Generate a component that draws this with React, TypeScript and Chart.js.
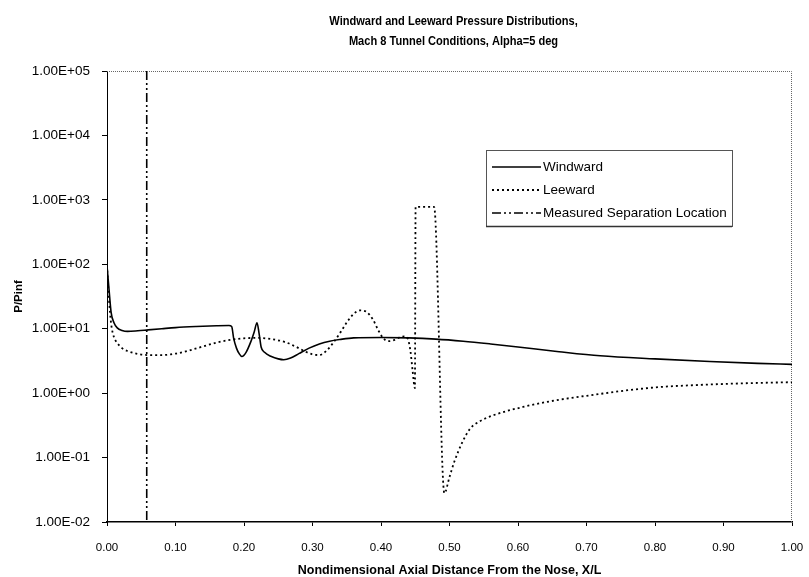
import React, { useEffect, useRef } from "react";
import { Chart, registerables } from "chart.js";

Chart.register(...registerables);

const titleLines = [
  "Windward and Leeward Pressure Distributions,",
  "Mach 8 Tunnel Conditions, Alpha=5 deg",
];
const xTitle = "Nondimensional Axial Distance From the Nose, X/L";
const yTitle = "P/Pinf";
const seriesNames = ["Windward", "Leeward", "Measured Separation Location"];

const xTicks = [0, 0.1, 0.2, 0.3, 0.4, 0.5, 0.6, 0.7, 0.8, 0.9, 1.0];
const xTickLabels = ["0.00", "0.10", "0.20", "0.30", "0.40", "0.50", "0.60", "0.70", "0.80", "0.90", "1.00"];
const yTicks = [1e-2, 1e-1, 1e0, 1e1, 1e2, 1e3, 1e4, 1e5];
const yTickLabels = ["1.00E-02", "1.00E-01", "1.00E+00", "1.00E+01", "1.00E+02", "1.00E+03", "1.00E+04", "1.00E+05"];

const windwardX = [0, 0.003, 0.006, 0.01, 0.015, 0.022, 0.03, 0.045, 0.06, 0.08,
  0.1, 0.13, 0.16, 0.178, 0.182, 0.185, 0.189, 0.193, 0.197, 0.203,
  0.21, 0.215, 0.219, 0.222, 0.225, 0.23, 0.24, 0.25, 0.258, 0.268,
  0.28, 0.295, 0.31, 0.325, 0.34, 0.36, 0.4, 0.44, 0.48, 0.52,
  0.56, 0.6, 0.66, 0.72, 0.8, 0.88, 0.95, 1.0];
const windwardY = [95, 40, 18, 12.5, 10.3, 9.4, 9.1, 9.3, 9.6, 10.0,
  10.4, 10.8, 11.1, 11.2, 10.8, 7.0, 5.0, 4.1, 3.7, 4.3,
  6.3, 9.0, 12.4, 8.5, 5.2, 4.3, 3.7, 3.4, 3.3, 3.5,
  4.1, 5.0, 5.8, 6.4, 6.8, 7.2, 7.3, 7.2, 6.9, 6.4,
  5.8, 5.2, 4.4, 3.8, 3.4, 3.1, 2.9, 2.8];

const leewardX = [0, 0.003, 0.006, 0.01, 0.015, 0.022, 0.03, 0.045, 0.06, 0.08,
  0.1, 0.12, 0.14, 0.16, 0.18, 0.2, 0.22, 0.24, 0.26, 0.275,
  0.29, 0.3, 0.31, 0.32, 0.33, 0.34, 0.35, 0.36, 0.369, 0.378,
  0.388, 0.396, 0.403, 0.41, 0.42, 0.428, 0.434, 0.439, 0.443, 0.446,
  0.4495, 0.4505, 0.4775, 0.4925, 0.5, 0.507, 0.519, 0.53, 0.545, 0.563,
  0.61, 0.66, 0.71, 0.757, 0.805, 0.85, 0.902, 0.95, 1.0];
const leewardY = [95, 28, 12, 7.5, 6.0, 5.0, 4.5, 4.05, 3.9, 3.9,
  4.1, 4.6, 5.3, 6.1, 6.7, 7.1, 7.2, 6.9, 6.2, 5.3,
  4.4, 4.0, 3.9, 4.5, 6.0, 8.5, 12.5, 17, 19.2, 18.5,
  14, 9.5, 7.2, 6.4, 6.7, 7.4, 7.6, 7.0, 4.5, 2.3,
  1.2, 780, 780, 0.028, 0.05, 0.086, 0.175, 0.28, 0.37, 0.45,
  0.62, 0.79, 0.94, 1.1, 1.24, 1.32, 1.39, 1.44, 1.48];

const separationX = [0.058, 0.058];
const separationY = [1e5, 1e-2];

const toPoints = (xs: number[], ys: number[]) => xs.map((x, i) => ({ x, y: ys[i] }));

const FONT = '"Liberation Sans", Arial, Helvetica, sans-serif';

const decorPlugin = {
  id: "decor",
  afterDraw(chart: any) {
    const { ctx, chartArea: ca } = chart;
    ctx.save();
    // dotted top and right frame
    ctx.strokeStyle = "#666";
    ctx.lineWidth = 1;
    ctx.setLineDash([1, 1]);
    ctx.beginPath();
    ctx.moveTo(ca.left, ca.top + 0.5);
    ctx.lineTo(ca.right - 0.5, ca.top + 0.5);
    ctx.lineTo(ca.right - 0.5, ca.bottom);
    ctx.stroke();
    ctx.setLineDash([]);

    // title centred over the plot area (slightly condensed)
    ctx.fillStyle = "#000";
    ctx.font = `bold 13.5px ${FONT}`;
    ctx.textAlign = "center";
    ctx.textBaseline = "middle";
    const cx = (ca.left + ca.right) / 2 + 4;
    titleLines.forEach((t, i) => {
      ctx.save();
      ctx.translate(cx, 21 + i * 20);
      ctx.scale(0.82, 1);
      ctx.fillText(t, 0, 0);
      ctx.restore();
    });

    // legend box
    const lx = 486, ly = 150, lw = 246, lh = 76;
    ctx.fillStyle = "#fff";
    ctx.fillRect(lx, ly, lw, lh);
    ctx.strokeStyle = "#555";
    ctx.lineWidth = 1;
    ctx.strokeRect(lx + 0.5, ly + 0.5, lw, lh);
    ctx.lineWidth = 1.5;
    ctx.strokeStyle = "#333";
    ctx.beginPath();
    ctx.moveTo(lx, ly + lh + 0.5);
    ctx.lineTo(lx + lw, ly + lh + 0.5);
    ctx.stroke();

    chart.data.datasets.forEach((ds: any, i: number) => {
      const y = ly + 17 + i * 23;
      ctx.strokeStyle = ds.borderColor;
      ctx.lineWidth = ds.borderWidth;
      ctx.setLineDash(ds.borderDash || []);
      ctx.beginPath();
      ctx.moveTo(lx + 6, y);
      ctx.lineTo(lx + 55, y);
      ctx.stroke();
      ctx.setLineDash([]);
      ctx.fillStyle = "#000";
      ctx.font = `13.5px ${FONT}`;
      ctx.textAlign = "left";
      ctx.textBaseline = "middle";
      ctx.fillText(ds.label, lx + 57, y);
    });
    ctx.restore();
  },
};

export default function App() {
  const ref = useRef<HTMLCanvasElement | null>(null);
  useEffect(() => {
    if (!ref.current) return;
    const chart = new Chart(ref.current, {
      type: "line",
      data: {
        datasets: [
          {
            label: seriesNames[0],
            data: toPoints(windwardX, windwardY),
            borderColor: "#000",
            borderWidth: 1.6,
            pointRadius: 0,
            cubicInterpolationMode: "monotone",
            fill: false,
          },
          {
            label: seriesNames[1],
            data: toPoints(leewardX, leewardY),
            borderColor: "#000",
            borderWidth: 1.8,
            borderDash: [2, 3],
            pointRadius: 0,
            cubicInterpolationMode: "monotone",
            fill: false,
          },
          {
            label: seriesNames[2],
            data: toPoints(separationX, separationY),
            borderColor: "#000",
            borderWidth: 1.6,
            borderDash: [9, 3, 2, 3, 2, 3],
            pointRadius: 0,
            fill: false,
          },
        ],
      },
      options: {
        responsive: false,
        animation: false,
        layout: { padding: { top: 71, right: 17, bottom: 0, left: 0 } },
        plugins: {
          legend: { display: false },
          title: { display: false },
          tooltip: { enabled: false },
        },
        scales: {
          x: {
            type: "linear",
            min: 0,
            max: 1,
            afterBuildTicks: (s: any) => {
              s.ticks = xTicks.map((v) => ({ value: v }));
            },
            afterFit: (s: any) => {
              s.height = 55;
              s.paddingLeft = 0;
              s.paddingRight = 0;
            },
            ticks: {
              callback: (_v: any, i: number) => xTickLabels[i],
              color: "#000",
              font: { family: FONT, size: 11.5 },
              padding: 15,
              maxRotation: 0,
            },
            grid: { drawOnChartArea: false, drawTicks: true, tickLength: 4, color: "#000" },
            border: { color: "#000", width: 1.5 },
            title: {
              display: true,
              text: xTitle,
              color: "#000",
              font: { family: FONT, size: 12.5, weight: "bold" },
              padding: { top: 0, bottom: -1 },
            },
          },
          y: {
            type: "logarithmic",
            min: 1e-2,
            max: 1e5,
            afterBuildTicks: (s: any) => {
              s.ticks = yTicks.map((v) => ({ value: v }));
            },
            afterFit: (s: any) => {
              s.width = 107;
            },
            ticks: {
              callback: (_v: any, i: number) => yTickLabels[i],
              color: "#000",
              font: { family: FONT, size: 13.5 },
              padding: 12,
            },
            grid: { drawOnChartArea: false, drawTicks: true, tickLength: 5, color: "#000" },
            border: { color: "#000", width: 1 },
            title: {
              display: true,
              text: yTitle,
              color: "#000",
              font: { family: FONT, size: 11.5, weight: "bold" },
              padding: { top: 12, bottom: 0 },
            },
          },
        },
      },
      plugins: [decorPlugin],
    } as any);
    return () => chart.destroy();
  }, []);

  return (
    <div style={{ position: "fixed", left: 0, top: 0, width: 809, height: 577, background: "#fff" }}>
      <canvas ref={ref} width={809} height={577} style={{ display: "block", width: 809, height: 577 }} />
    </div>
  );
}
